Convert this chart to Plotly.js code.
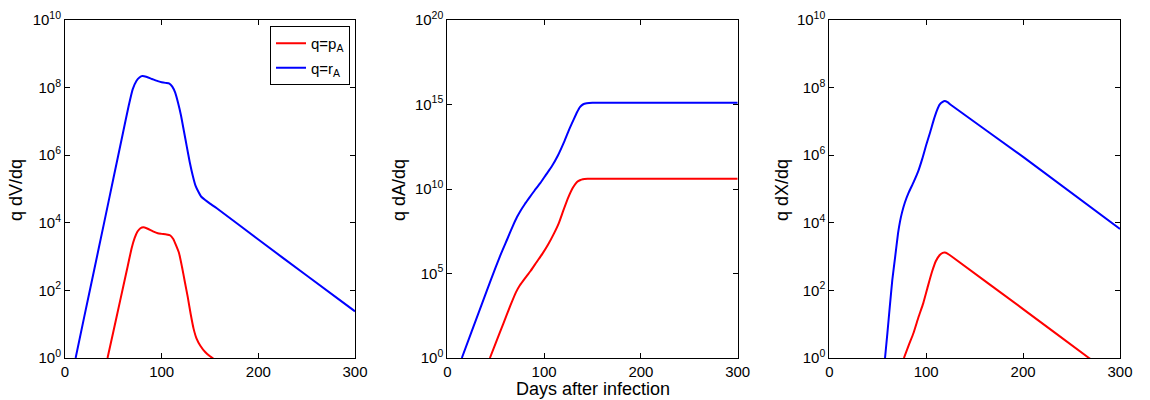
<!DOCTYPE html>
<html>
<head>
<meta charset="utf-8">
<script src="https://cdn.plot.ly/plotly-3.0.1.min.js"></script>
<style>
html,body{margin:0;padding:0;background:#fff;}
#chart{width:1150px;height:400px;}
</style>
</head>
<body>
<div id="chart"></div>
<script>
// ---------- Data ----------
// Panel 1: q dV/dq
const daysV_pA = [44,50,57,64,69,72,75,78,81,85,91,96,100,105,109,112,115,118,121,124,127,130,133,136,140,145,150,155];
const V_pA     = [1,6.0,49,400,1800,3500,5500,6900,7400,6800,5600,4900,4700,4500,4200,3300,2100,1260,500,178,63,20,7.4,3.8,2.3,1.5,1.12,0.89];
const daysV_rA = [11,20,30,40,50,60,66,70,74,77,80,84,90,96,100,104,108,111,114,117,120,123,126,129,132,135,138,141,145,150,157,200,250,300];
const V_rA     = [1,17,380,8700,2.0e5,4.6e6,3.0e7,8.9e7,1.6e8,2.0e8,2.2e8,2.1e8,1.8e8,1.55e8,1.45e8,1.38e8,1.32e8,1.07e8,7.1e7,3.5e7,1.5e7,5.2e6,1.8e6,6.3e5,2.6e5,1.26e5,8.3e4,5.9e4,4.7e4,3.7e4,2.7e4,3.2e3,275,24];

// Panel 2: q dA/dq
const daysA_pA = [44,50,58,65,71,75,80,86,92,98,104,110,115,120,125,130,134,137,140,145,150,200,250,300];
const A_pA     = [1,7.6,112,1200,7900,2.0e4,5.0e4,1.4e5,4.5e5,1.4e6,5.0e6,2.2e7,8.9e7,5.6e8,3.2e9,1.26e10,2.6e10,3.3e10,3.8e10,4.0e10,4.0e10,4.0e10,4.0e10,4.0e10];
const daysA_rA = [15,25,35,45,55,62,68,72,76,80,85,90,96,102,108,114,120,125,130,134,137,140,144,150,200,250,300];
const A_rA     = [1,35,1200,4.2e4,1.26e6,1.1e7,7.1e7,2.2e8,5.6e8,1.26e9,3.2e9,7.9e9,2.2e10,7.1e10,2.2e11,8.9e11,5.0e12,2.5e13,1.1e14,3.5e14,7.1e14,1.0e15,1.17e15,1.26e15,1.26e15,1.26e15,1.26e15];

// Panel 3: q dX/dq
const daysX_pA = [77,82,87,92,97,102,106,110,114,117,119,122,126,200,268,275];
const X_pA     = [1,2.4,5.6,16,42,141,355,740,1120,1290,1320,1230,1020,28,1,0.72];
const daysX_rA = [57.5,60,62.5,65,68,71,73,75,78,82,87,92,96,100,104,108,111,114,117,119,122,126,200,300];
const X_rA     = [1,5.6,35,200,1000,5000,1.1e4,2.0e4,4.0e4,7.9e4,1.6e5,3.5e5,7.9e5,2.0e6,4.7e6,1.17e7,2.1e7,3.2e7,3.8e7,4.0e7,3.7e7,3.0e7,8.9e5,6.6e3];

// Tick labels
const xTickVals = [0,100,200,300];
const xTickText = ['0','100','200','300'];
const yTickVals10 = [1,1e2,1e4,1e6,1e8,1e10];
const yTickText10 = ['10<sup>0</sup>','10<sup>2</sup>','10<sup>4</sup>','10<sup>6</sup>','10<sup>8</sup>','10<sup>10</sup>'];
const yTickVals20 = [1,1e5,1e10,1e15,1e20];
const yTickText20 = ['10<sup>0</sup>','10<sup>5</sup>','10<sup>10</sup>','10<sup>15</sup>','10<sup>20</sup>'];

const seriesNames = ['q=p<sub>A</sub>','q=r<sub>A</sub>'];
const yTitles = ['q dV/dq','q dA/dq','q dX/dq'];
const xTitle = 'Days after infection';

// ---------- Styling ----------
const RED = '#ff0000', BLUE = '#0000ff';
const FONT = 'Liberation Sans, Arial, Helvetica, sans-serif';
const W = 1150, H = 400;
const plotTop = 20, plotBottom = 358;
const panelsX = [[65,355],[447.3,737.7],[829.3,1120]];
const yDom = [1 - plotBottom/H, 1 - plotTop/H];

function line(x, y, color, name, axisIdx, show) {
  const suf = axisIdx === 1 ? '' : String(axisIdx);
  return {
    x: x, y: y, type: 'scatter', mode: 'lines',
    line: {color: color, width: 2, shape: 'spline', smoothing: 0.5},
    name: name, showlegend: show, legendgroup: name,
    xaxis: 'x' + suf, yaxis: 'y' + suf,
    hoverinfo: 'skip'
  };
}

const traces = [
  line(daysV_pA, V_pA, RED,  seriesNames[0], 1, true),
  line(daysV_rA, V_rA, BLUE, seriesNames[1], 1, true),
  line(daysA_pA, A_pA, RED,  seriesNames[0], 2, false),
  line(daysA_rA, A_rA, BLUE, seriesNames[1], 2, false),
  line(daysX_pA, X_pA, RED,  seriesNames[0], 3, false),
  line(daysX_rA, X_rA, BLUE, seriesNames[1], 3, false)
];

function xAxis(i) {
  return {
    domain: [panelsX[i][0]/W, panelsX[i][1]/W],
    range: [0,300], tickmode: 'array', tickvals: xTickVals, ticktext: xTickText,
    ticks: 'inside', ticklen: 5, tickwidth: 1, tickcolor: '#000',
    showline: true, linecolor: '#000', linewidth: 1, mirror: 'ticks',
    showgrid: false, zeroline: false,
    tickfont: {family: FONT, size: 15, color: '#000'},
    anchor: i === 0 ? 'y' : 'y' + (i+1),
    fixedrange: true
  };
}
function yAxis(i, maxExp, vals, text) {
  return {
    domain: yDom, type: 'log', range: [0, maxExp],
    tickmode: 'array', tickvals: vals, ticktext: text,
    ticks: 'inside', ticklen: 5, tickwidth: 1, tickcolor: '#000',
    showline: true, linecolor: '#000', linewidth: 1, mirror: 'ticks',
    showgrid: false, zeroline: false,
    tickfont: {family: FONT, size: 15, color: '#000'},
    anchor: i === 0 ? 'x' : 'x' + (i+1),
    fixedrange: true
  };
}

const titleX = [16, 399, 782];
const annotations = yTitles.map((t, i) => ({
  text: t, xref: 'paper', yref: 'paper',
  x: titleX[i]/W, y: 1 - 190/H, xanchor: 'center', yanchor: 'middle',
  textangle: -90, showarrow: false,
  font: {family: FONT, size: 18, color: '#000'}
}));
annotations.push({
  text: xTitle, xref: 'paper', yref: 'paper',
  x: 593/W, y: 1 - 389/H, xanchor: 'center', yanchor: 'middle',
  showarrow: false, font: {family: FONT, size: 18, color: '#000'}
});

const layout = {
  width: W, height: H,
  margin: {l: 0, r: 0, t: 0, b: 0},
  paper_bgcolor: '#fff', plot_bgcolor: '#fff',
  showlegend: true,
  legend: {
    x: 350/W, y: 1 - 26/H, xanchor: 'right', yanchor: 'top',
    bgcolor: '#fff', bordercolor: '#000', borderwidth: 1,
    font: {family: FONT, size: 15, color: '#000'},
    tracegroupgap: 2
  },
  xaxis: xAxis(0), yaxis: yAxis(0, 10, yTickVals10, yTickText10),
  xaxis2: xAxis(1), yaxis2: yAxis(1, 20, yTickVals20, yTickText20),
  xaxis3: xAxis(2), yaxis3: yAxis(2, 10, yTickVals10, yTickText10),
  annotations: annotations
};

Plotly.newPlot('chart', traces, layout, {staticPlot: true, displayModeBar: false});
</script>
</body>
</html>
